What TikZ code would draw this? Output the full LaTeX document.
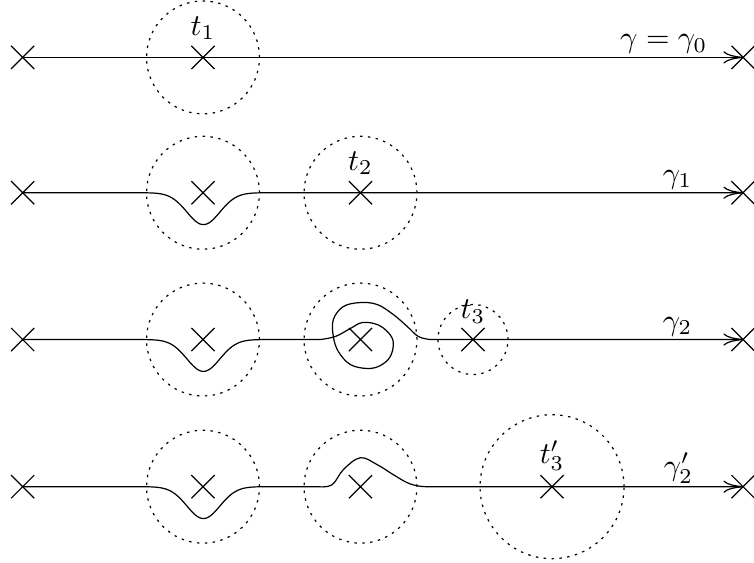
\documentclass[tikz,border=0pt]{standalone}
\usepackage{amsmath, amssymb}
\usepackage{tikz}
\usetikzlibrary{calc, positioning, shapes.misc, arrows.meta}

\begin{document}
\begin{tikzpicture}[
        pole/.style={cross out, draw, inner sep=0pt, minimum size=0.255cm},
        disk/.style={circle, draw, dash pattern=on 0.8pt off 1.8pt, inner sep=0pt, minimum size=#1},
        disk/.default=1.31cm,
        tag/.style={inner sep=1pt},
        path label/.style={above, inner sep=1pt},
        contour/.style={-{To[length=6.5pt, width=4pt]}}
    ]
            \useasboundingbox (0,0) rectangle (8.747,-6.531);

            % gamma_0
            \begin{scope}[shift={(0,-0.666)}]
                \node[pole] (l0) at (0.263,0) {};
                \node[pole] (x01) at (2.355,0) {};
                \node[pole] (r0) at (8.62,0) {};
                \node[disk] (d01) at (x01) {};
                \node[tag, above=0.03cm of x01] (t01) {$t_1$};
                \draw[contour] (l0.center) to (r0.center);
                \node[path label] (g0) at (7.70,0) {$\gamma = \gamma_0$};
            \end{scope}

            % gamma_1
            \begin{scope}[shift={(0,-2.236)}]
                \node[pole] (l1) at (0.263,0) {};
                \node[pole] (x11) at (2.355,0) {};
                \node[pole] (x12) at (4.182,0) {};
                \node[pole] (r1) at (8.62,0) {};
                \node[disk] (d11) at (x11) {};
                \node[disk] (d12) at (x12) {};
                \node[tag, above=0.03cm of x12] (t12) {$t_2$};
                \draw[contour] (l1.center) -- plot[domain=-0.8:0.8, variable=\x, samples=60, smooth] ({2.36+\x}, {-0.37*exp(-((\x)*(\x))/0.073)}) -- (r1.center);
                \node[path label] (g1) at (7.86,0) {$\gamma_1$};
            \end{scope}

            % gamma_2
            \begin{scope}[shift={(0,-3.939)}]
                \node[pole] (l2) at (0.263,0) {};
                \node[pole] (x21) at (2.355,0) {};
                \node[pole] (x22) at (4.182,0) {};
                \node[pole] (x23) at (5.487,0) {};
                \node[pole] (r2) at (8.62,0) {};
                \node[disk] (d21) at (x21) {};
                \node[disk] (d22) at (x22) {};
                \node[disk=0.812cm] (d23) at (x23) {};
                \node[tag, above=0.01cm of x23] (t23) {$t_3$};
                \draw[contour] (l2.center) -- plot[domain=-0.8:0.8, variable=\x, samples=60, smooth] ({2.36+\x}, {-0.37*exp(-((\x)*(\x))/0.073)})
                    -- plot[smooth, tension=0.6] coordinates {(3.716,0) (3.89,0.035) (4.064,0.128) (4.203,0.197) (4.377,0.174) (4.505,0.081) (4.563,-0.035) (4.528,-0.197) (4.412,-0.302) (4.261,-0.336) (4.064,-0.29) (3.925,-0.139) (3.867,0.035) (3.867,0.232) (3.983,0.383) (4.18,0.429) (4.377,0.406) (4.563,0.29) (4.725,0.151) (4.853,0.035) (4.992,0)}
                    -- (r2.center);
                \node[path label] (g2) at (7.86,0) {$\gamma_2$};
            \end{scope}

            % gamma_2'
            \begin{scope}[shift={(0,-5.646)}]
                \node[pole] (l3) at (0.263,0) {};
                \node[pole] (x31) at (2.355,0) {};
                \node[pole] (x32) at (4.182,0) {};
                \node[pole] (x33) at (6.404,0) {};
                \node[pole] (r3) at (8.62,0) {};
                \node[disk] (d31) at (x31) {};
                \node[disk] (d32) at (x32) {};
                \node[disk=1.67cm] (d33) at (x33) {};
                \node[tag, above=0.01cm of x33] (t33) {$t_3'$};
                \draw[contour] (l3.center) -- plot[domain=-0.8:0.8, variable=\x, samples=60, smooth] ({2.36+\x}, {-0.37*exp(-((\x)*(\x))/0.073)})
                    -- plot[smooth, tension=0.6] coordinates {(3.68,0) (3.85,0.02) (3.985,0.2) (4.18,0.336) (4.377,0.255) (4.563,0.139) (4.725,0.046) (4.853,0.008) (4.95,0)}
                    -- (r3.center);
                \node[path label] (g3) at (7.87,0) {$\gamma_2'$};
            \end{scope}
        \end{tikzpicture}
\end{document}
